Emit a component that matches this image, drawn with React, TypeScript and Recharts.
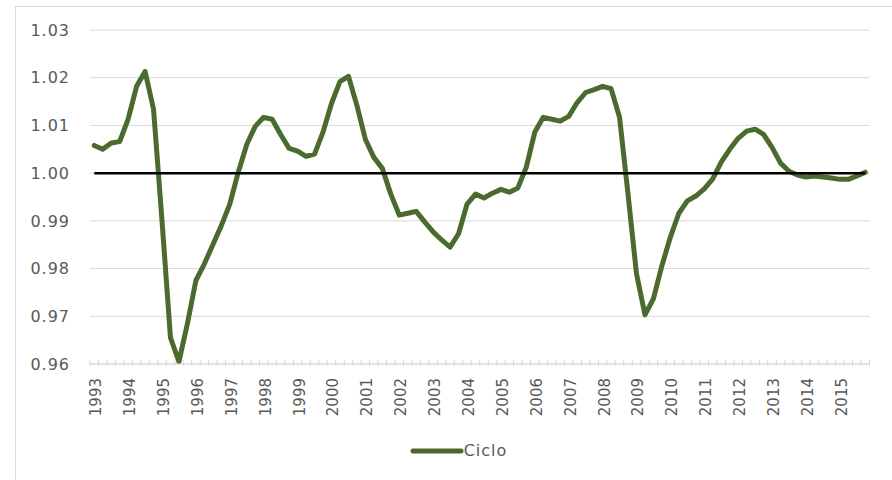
import React from 'react';
import { LineChart, Line, XAxis, YAxis, CartesianGrid, Legend } from 'recharts';

const years = ['1993','1994','1995','1996','1997','1998','1999','2000','2001','2002','2003','2004','2005','2006','2007','2008','2009','2010','2011','2012','2013','2014','2015'];
const quarters = ['T1','T2','T3','T4'];
const yTicks = [0.96, 0.97, 0.98, 0.99, 1.0, 1.01, 1.02, 1.03];
const seriesName = 'Ciclo';
const baseLevel = 1.0;

const cicloValues = [
  1.0058, 1.0050, 1.0063, 1.0066,
  1.0113, 1.0182, 1.0213, 1.0134,
  0.9900, 0.9655, 0.9605, 0.9685,
  0.9775, 0.9810, 0.9850, 0.9890,
  0.9935, 1.0002, 1.0060, 1.0098,
  1.0117, 1.0113, 1.0081, 1.0052,
  1.0046, 1.0035, 1.0040, 1.0086,
  1.0146, 1.0192, 1.0203, 1.0142,
  1.0071, 1.0033, 1.0010, 0.9956,
  0.9912, 0.9916, 0.9920, 0.9898,
  0.9877, 0.9860, 0.9845, 0.9873,
  0.9935, 0.9956, 0.9948, 0.9958,
  0.9966, 0.9960, 0.9969, 1.0013,
  1.0086, 1.0117, 1.0113, 1.0109,
  1.0119, 1.0148, 1.0169, 1.0175,
  1.0182, 1.0177, 1.0117, 0.9956,
  0.9789, 0.9703, 0.9737, 0.9806,
  0.9866, 0.9916, 0.9942, 0.9952,
  0.9967, 0.9988, 1.0023, 1.0050,
  1.0073, 1.0088, 1.0092, 1.0081,
  1.0054, 1.0021, 1.0004, 0.9996,
  0.9992, 0.9994, 0.9992, 0.9990,
  0.9987, 0.9987, 0.9994, 1.0002,
];

const data = years.flatMap((y, yi) =>
  quarters.map((q, qi) => ({
    period: `${y}-${q}`,
    year: y,
    ciclo: cicloValues[yi * 4 + qi],
    base: baseLevel,
  }))
);

const GREEN = '#4a6b2d';
const GRID = '#d9d9d9';
const TEXT = '#595959';
const FONT = '"DejaVu Sans", sans-serif';

const HALF_BAND = 4.236;

const XTick = (props: any) => {
  const { x, y, index, payload } = props;
  const i = payload.index ?? index;
  const lbl = data[i]?.year;
  const showLabel = i % 4 === 0;
  const isLast = i === data.length - 1;
  return (
    <g>
      <line x1={x - HALF_BAND} x2={x - HALF_BAND} y1={y - 4} y2={y + 2} stroke={GRID} strokeWidth={1} />
      {isLast && (
        <line x1={x + HALF_BAND} x2={x + HALF_BAND} y1={y - 4} y2={y + 2} stroke={GRID} strokeWidth={1} />
      )}
      {showLabel && (
        <text
          transform={`translate(${x + 2},${y + 14}) rotate(-90)`}
          textAnchor="end"
          dominantBaseline="central"
          fill={TEXT}
          fontSize={15}
          fontFamily={FONT}
        >
          {lbl}
        </text>
      )}
    </g>
  );
};

const LegendContent = () => (
  <div style={{ display: 'flex', alignItems: 'center', justifyContent: 'center', paddingLeft: 25 }}>
    <svg width={54} height={12} style={{ display: 'block' }}>
      <line x1={3} x2={51} y1={6} y2={6} stroke={GREEN} strokeWidth={5} strokeLinecap="round" />
    </svg>
    <span style={{ fontFamily: FONT, fontSize: 16, color: TEXT, letterSpacing: 1 }}>{seriesName}</span>
  </div>
);

export default function App() {
  return (
    <div style={{ position: 'absolute', left: 0, top: 0, width: 892, height: 480, background: '#fff', overflow: 'hidden' }}>
      <LineChart
        width={892}
        height={480}
        data={data}
        margin={{ top: 30, right: 22.5, bottom: 36, left: 30 }}
      >
        <CartesianGrid vertical={false} stroke={GRID} strokeWidth={1} />
        <XAxis
          dataKey="period"
          interval={0}
          tickLine={false}
          tickSize={0}
          tickMargin={0}
          axisLine={{ stroke: GRID }}
          padding={{ left: HALF_BAND, right: HALF_BAND }}
          height={56}
          tick={<XTick />}
        />
        <YAxis
          domain={[0.96, 1.03]}
          ticks={yTicks}
          width={60}
          tickLine={false}
          axisLine={false}
          allowDataOverflow
          tickFormatter={(v: number) => v.toFixed(2)}
          tick={{ fill: TEXT, fontSize: 16, fontFamily: FONT, letterSpacing: 1, dx: -12 }}
        />
        <Legend
          verticalAlign="bottom"
          content={<LegendContent />}
          wrapperStyle={{ top: 441, left: 0, width: 892, height: 24 }}
        />
        <Line
          type="linear"
          dataKey="ciclo"
          name={seriesName}
          stroke={GREEN}
          strokeWidth={5}
          strokeLinejoin="round"
          strokeLinecap="round"
          dot={false}
          activeDot={false}
          isAnimationActive={false}
        />
        <Line
          type="linear"
          dataKey="base"
          stroke="#000000"
          strokeWidth={2.5}
          dot={false}
          activeDot={false}
          legendType="none"
          isAnimationActive={false}
        />
      </LineChart>
      <div style={{ position: 'absolute', left: 15, top: 6, width: 900, height: 500, border: '1px solid #d9d9d9', boxSizing: 'border-box', pointerEvents: 'none' }} />
    </div>
  );
}
